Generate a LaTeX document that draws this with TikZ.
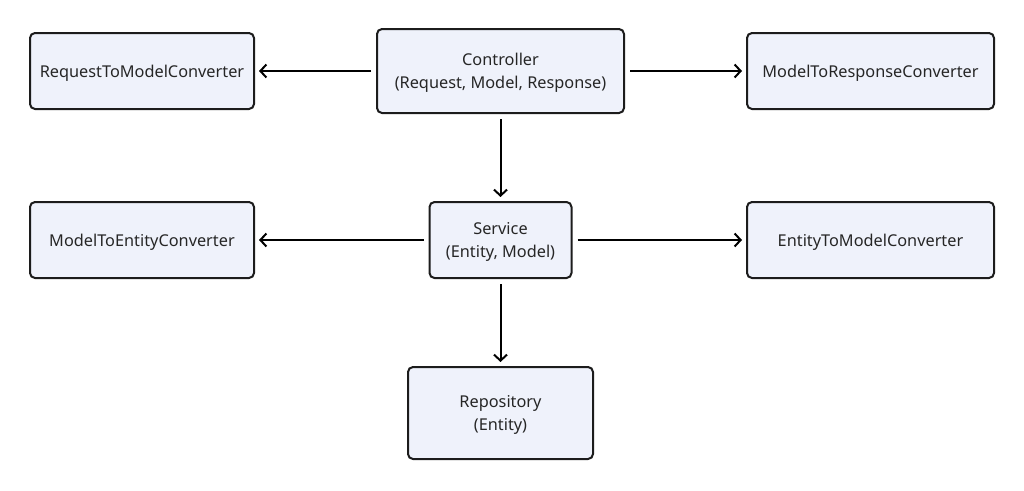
\documentclass[tikz,border=0pt]{standalone}
\usepackage{fontspec}
\setmainfont{Noto Sans}
\usetikzlibrary{arrows.meta}
\definecolor{boxfill}{HTML}{EFF2FB}
\definecolor{boxline}{HTML}{1C1C1C}
\tikzstyle{layer}=[draw=boxline, fill=boxfill, line width=2pt, rounded corners=5pt,
                   align=center, inner sep=0, text=black!85, text depth=0pt,
                   font=\fontsize{16.3}{23}\selectfont]
\tikzstyle{flow}=[draw=black, line width=2pt, shorten <=5pt, shorten >=4pt,
                  -{Straight Barb[length=6pt, width=13pt, line width=2pt]}]
\tikzstyle{layout}=[x=1pt, y=-1pt,
                    % Keep the page as large as the reference.
                    execute at begin picture={\useasboundingbox (0, 0) rectangle (1024, 490);}]

\begin{document}
\begin{tikzpicture}[layout]
        \node[layer, minimum width=224pt, minimum height=76pt] (ReqConv) at (142, 71) {RequestToModelConverter};
        \node[layer, minimum width=247pt, minimum height=84pt] (Ctrl) at (500.5, 71) {Controller\\(Request, Model, Response)};
        \node[layer, minimum width=247pt, minimum height=76pt] (RespConv) at (870.5, 71) {ModelToResponseConverter};
        \node[layer, minimum width=224pt, minimum height=76pt] (EntConv) at (142, 240) {ModelToEntityConverter};
        \node[layer, minimum width=142pt, minimum height=76pt] (Svc) at (500.5, 240) {Service\\(Entity, Model)};
        \node[layer, minimum width=247pt, minimum height=76pt] (ModConv) at (870.5, 240) {EntityToModelConverter};
        \node[layer, minimum width=185pt, minimum height=92pt] (Repo) at (500.5, 413) {Repository\\(Entity)};
        \draw[flow] (Ctrl) -- (ReqConv);
        \draw[flow] (Ctrl) -- (RespConv);
        \draw[flow] (Ctrl) -- (Svc);
        \draw[flow] (Svc) -- (EntConv);
        \draw[flow] (Svc) -- (ModConv);
        \draw[flow] (Svc) -- (Repo);
    \end{tikzpicture}
\end{document}
